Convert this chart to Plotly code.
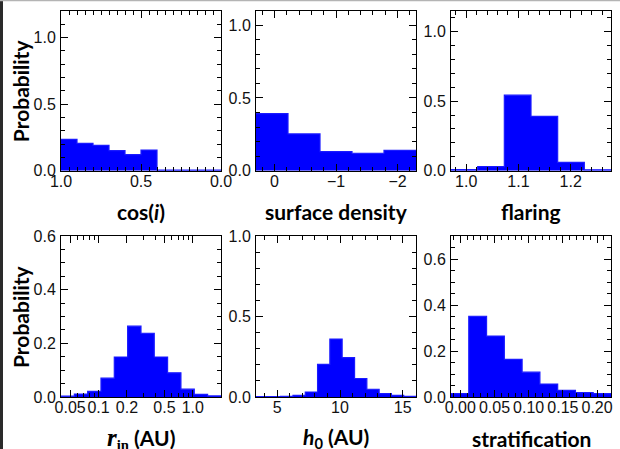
import plotly.graph_objects as go

# ---------------- data ----------------
cos_edges = [1.0, 0.9, 0.8, 0.7, 0.6, 0.5, 0.4, 0.3, 0.2, 0.1, 0.0]
cos_prob = [0.235, 0.205, 0.19, 0.15, 0.12, 0.155, 0.004, 0.004, 0.004, 0.004]

sd_edges = [0.3, -0.22, -0.74, -1.26, -1.78, -2.3]
sd_prob = [0.393, 0.253, 0.131, 0.12, 0.14]

flare_edges = [0.971, 1.022, 1.073, 1.124, 1.175, 1.226, 1.277]
flare_prob = [0.008, 0.029, 0.543, 0.39, 0.06, 0.007]

rin_edges = [0.04, 0.0554, 0.0767, 0.1062, 0.147, 0.2036, 0.282, 0.390, 0.540, 0.748, 1.036, 1.435, 1.99]
rin_prob = [0.003, 0.011, 0.021, 0.07, 0.149, 0.264, 0.2375, 0.149, 0.09, 0.029, 0.01, 0.004]

h0_edges = [3.30, 4.28, 5.26, 6.25, 7.23, 8.21, 9.19, 10.17, 11.16, 12.14, 13.12, 14.1, 15.08, 16.06]
h0_prob = [0.003, 0.003, 0.004, 0.01, 0.031, 0.203, 0.36, 0.245, 0.115, 0.048, 0.021, 0.01, 0.004]

strat_edges = [-0.0136, 0.0124, 0.0384, 0.0644, 0.0904, 0.1164, 0.1424, 0.1684, 0.1944, 0.2204]
strat_prob = [0.015, 0.351, 0.265, 0.164, 0.108, 0.056, 0.029, 0.019, 0.015]

rin_ticks = [0.05, 0.1, 0.2, 0.5, 1.0]
rin_ticktext = ["0.05", "0.1", "0.2", "0.5", "1.0"]
rin_minor = [0.04, 0.06, 0.07, 0.08, 0.09, 0.3, 0.4, 0.6, 0.7, 0.8, 0.9, 2.0]

x_titles = ["cos(<i>i</i>)", "surface density", "flaring",
            "<span style='font-family:Liberation Serif;font-size:25px'><i>r</i></span>"
            "<span style='font-family:Liberation Serif'><sub>in</sub></span> (AU)",
            "<i>h</i><sub>0</sub> (AU)", "stratification"]
y_title = "Probability"

# ---------------- layout geometry (pixels) ----------------
W, H = 620, 449
cols = [(61, 221), (256, 416), (451, 611)]
rows = [(10.7, 170.7), (236, 397)]

def px_x(v):
    return v / W

def px_y(v):
    return 1 - v / H

panels = [
    (cos_edges, cos_prob),
    (sd_edges, sd_prob),
    (flare_edges, flare_prob),
    (rin_edges, rin_prob),
    (h0_edges, h0_prob),
    (strat_edges, strat_prob),
]

fig = go.Figure()
for i, (edges, prob) in enumerate(panels):
    n = i + 1
    sfx = "" if n == 1 else str(n)
    fig.add_trace(go.Scatter(
        x=edges, y=list(prob) + [prob[-1]],
        mode="lines", line_shape="hv",
        line=dict(color="#1a1aff", width=1.2),
        fill="tozeroy", fillcolor="#0000ff",
        xaxis="x" + sfx, yaxis="y" + sfx, showlegend=False,
        hoverinfo="skip",
    ))

tickfont = dict(family="Liberation Sans", size=16, color="#111111")

def base_axis():
    return dict(showline=True, linecolor="black", linewidth=1, mirror="allticks",
                ticks="inside", ticklen=7, tickwidth=1, tickcolor="black",
                showgrid=False, zeroline=False, tickfont=tickfont,
                automargin=False, fixedrange=True, tickangle=0)

x_specs = [
    dict(range=[1.0, 0.0], dtick=0.5, tick0=0, tickformat=".1f", minor=dict(dtick=0.05)),
    dict(range=[sd_edges[0], sd_edges[-1]], dtick=1, tick0=0, tickformat="d", minor=dict(dtick=0.2, tick0=0)),
    dict(range=[flare_edges[0], flare_edges[-1]], dtick=0.1, tick0=1.0, tickformat=".1f", minor=dict(dtick=0.02, tick0=1.0)),
    dict(type="log", range=[-1.398, 0.299], tickvals=rin_ticks, ticktext=rin_ticktext, minor=dict(tickvals=rin_minor)),
    dict(range=[h0_edges[0], h0_edges[-1]], dtick=5, tick0=0, tickformat="d", minor=dict(dtick=1, tick0=0)),
    dict(range=[strat_edges[0], strat_edges[-1]], dtick=0.05, tick0=0, tickformat=".2f", minor=dict(dtick=0.01, tick0=0)),
]
y_specs = [
    dict(range=[0, 1.2], dtick=0.5, tick0=0, tickformat=".1f", minor=dict(dtick=0.1, tick0=0)),
    dict(range=[0, 1.1], dtick=0.5, tick0=0, tickformat=".1f", minor=dict(dtick=0.1, tick0=0)),
    dict(range=[0, 1.15], dtick=0.5, tick0=0, tickformat=".1f", minor=dict(dtick=0.1, tick0=0)),
    dict(range=[0, 0.6], dtick=0.2, tick0=0, tickformat=".1f", minor=dict(dtick=0.05, tick0=0)),
    dict(range=[0, 1.0], dtick=0.5, tick0=0, tickformat=".1f", minor=dict(dtick=0.1, tick0=0)),
    dict(range=[0, 0.7], dtick=0.2, tick0=0, tickformat=".1f", minor=dict(dtick=0.05, tick0=0)),
]

layout = dict(width=W, height=H, margin=dict(l=0, r=0, t=0, b=0), autosize=False,
              paper_bgcolor="white", plot_bgcolor="white")
annotations = []
title_font = dict(family="Lato", size=21, color="black")
for i in range(6):
    n = i + 1
    sfx = "" if n == 1 else str(n)
    c = cols[i % 3]
    r = rows[i // 3]
    xa = base_axis()
    xa.update(x_specs[i])
    xa["ticklabelstandoff"] = -4
    minor = dict(ticks="inside", ticklen=4, tickwidth=1, tickcolor="black", showgrid=False)
    minor.update(xa.get("minor", {}))
    xa["minor"] = minor
    xa["domain"] = [px_x(c[0]), px_x(c[1])]
    xa["anchor"] = "y" + sfx
    ya = base_axis()
    ya.update(y_specs[i])
    ya["ticklabelstandoff"] = 1
    minor = dict(ticks="inside", ticklen=4, tickwidth=1, tickcolor="black", showgrid=False)
    minor.update(ya.get("minor", {}))
    ya["minor"] = minor
    ya["domain"] = [px_y(r[1]), px_y(r[0])]
    ya["anchor"] = "x" + sfx
    layout["xaxis" + sfx] = xa
    layout["yaxis" + sfx] = ya
    # x title
    ty = r[1] + 41
    annotations.append(dict(text="<b>" + x_titles[i] + "</b>", x=px_x((c[0] + c[1]) / 2),
                            y=px_y(ty), xref="paper", yref="paper", xanchor="center",
                            yanchor="middle", showarrow=False, font=title_font))
    if i % 3 == 0:
        annotations.append(dict(text="<b>" + y_title + "</b>", x=px_x(20.5),
                                y=px_y((r[0] + r[1]) / 2), xref="paper", yref="paper",
                                xanchor="center", yanchor="middle", textangle=-90,
                                showarrow=False, font=title_font))

layout["annotations"] = annotations
layout["shapes"] = [
    dict(type="rect", xref="paper", yref="paper", x0=0, x1=3 / W, y0=0, y1=1,
         fillcolor="#2a2a2a", line=dict(width=0), layer="above"),
    dict(type="rect", xref="paper", yref="paper", x0=0, x1=1, y0=1 - 1.2 / H, y1=1,
         fillcolor="#b4b4b4", line=dict(width=0), layer="above"),
]

fig.update_layout(**layout)
fig.write_html("out.html")
